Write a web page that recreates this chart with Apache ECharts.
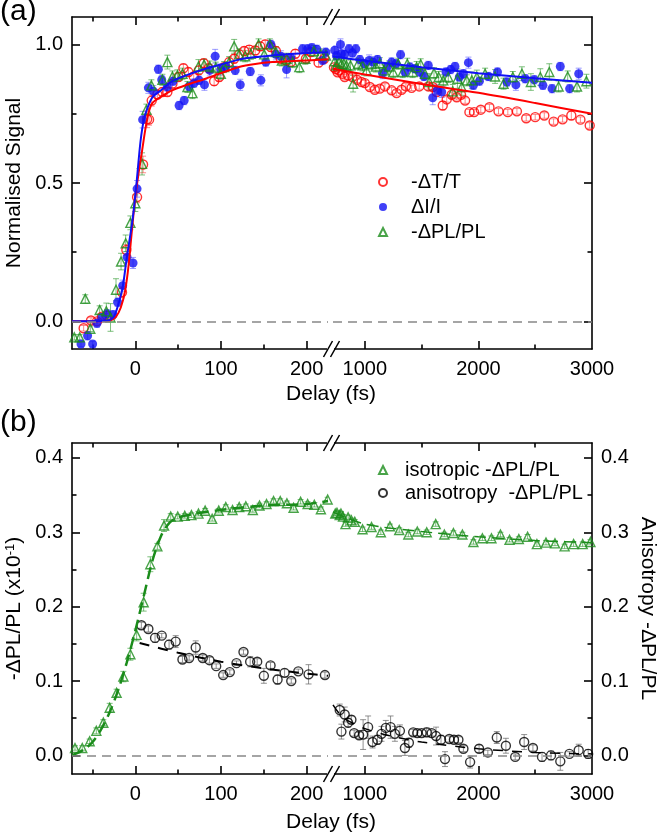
<!DOCTYPE html>
<html><head><meta charset="utf-8">
<script src="https://cdn.jsdelivr.net/npm/echarts@6/dist/echarts.min.js"></script>
<style>html,body{margin:0;padding:0;background:#fff}#c{width:662px;height:836px}</style>
</head><body><div id="c"></div>
<script>
// ---------- Panel (a) data: [delay fs, value, error] ----------
const aRedL = [[-60.4,-0.025,0.01],[-51.8,0.003,0.01],[-44.8,0.0,0.01],[-39,0.017,0.01],[-33,0.02,0.01],[-15.6,0.105,0.02],[-10.5,0.258,0.02],[2,0.449,0.02],[9,0.567,0.03],[13.7,0.73,0.03],[16,0.729,0.02],[19.1,0.798,0.02],[25.7,0.82,0.015],[31.6,0.829,0.015],[37.4,0.829,0.015],[43.3,0.859,0.015],[50.3,0.883,0.015],[56.1,0.915,0.015],[62,0.901,0.015],[68.2,0.885,0.015],[74,0.907,0.015],[79.9,0.933,0.015],[85.7,0.915,0.015],[92,0.868,0.015],[97.8,0.883,0.015],[103.7,0.919,0.015],[109.6,0.937,0.015],[115.4,0.949,0.015],[121.3,0.965,0.015],[127.1,0.977,0.015],[133,0.982,0.015],[140,0.979,0.015],[145.8,0.994,0.015],[151.7,1.001,0.015],[158.3,0.991,0.015],[164.1,0.977,0.015],[170,0.949,0.015],[175.8,0.943,0.015],[181.6,0.937,0.015],[186.8,0.967,0.015],[199.2,0.949,0.015],[205,0.973,0.015],[214,0.935,0.015],[220.6,0.949,0.015]];
const aBlueL = [[-63.5,-0.082,0.01],[-55.8,-0.052,0.015],[-49.9,-0.082,0.01],[-44.8,-0.007,0.015],[-39,0.014,0.015],[-33.1,0.027,0.015],[-26.1,0.024,0.015],[-20.7,0.069,0.015],[-14.8,0.129,0.02],[-9.7,0.232,0.02],[-2.7,0.211,0.02],[2,0.479,0.03],[8.5,0.729,0.03],[15.2,0.844,0.02],[21,0.832,0.02],[26.9,0.911,0.015],[30.8,0.873,0.015],[37.4,0.847,0.015],[44,0.868,0.015],[51.1,0.78,0.015],[57,0.798,0.015],[62.8,0.849,0.015],[68.6,0.861,0.015],[74.5,0.871,0.015],[80.7,0.855,0.02],[86.9,0.907,0.02],[93.2,0.958,0.025],[99.8,0.91,0.02],[105.6,0.921,0.015],[116.6,0.907,0.015],[122.5,0.855,0.02],[134.2,0.903,0.015],[146.6,0.871,0.02],[152.4,0.937,0.015],[158.3,1.001,0.015],[164.1,0.965,0.02],[170,0.958,0.02],[176.6,0.91,0.03],[181.6,0.953,0.015],[195.3,0.985,0.015],[201.2,0.985,0.015],[206.2,0.989,0.015],[212.1,0.983,0.015],[218.7,0.943,0.015],[222.6,0.973,0.015]];
const aGreenL = [[-71.3,-0.058,0.01],[-65,-0.058,0.01],[-58.5,0.081,0.015],[-52.6,-0.027,0.01],[-41.7,0.041,0.015],[-33.9,0.036,0.03],[-29,0.014,0.05],[-22.6,0.114,0.04],[-16.7,0.216,0.03],[-11.3,0.282,0.03],[-5.8,0.356,0.025],[0,0.427,0.03],[7.8,0.569,0.04],[12.9,0.765,0.02],[18.7,0.853,0.02],[31.6,0.873,0.02],[37.4,0.937,0.025],[43.3,0.885,0.02],[49.1,0.889,0.02],[55,0.895,0.02],[60.8,0.847,0.02],[66.7,0.825,0.02],[73.7,0.921,0.025],[80.3,0.928,0.02],[86.9,0.921,0.02],[93.9,0.917,0.02],[99.8,0.895,0.02],[103.7,0.919,0.02],[109.6,0.937,0.02],[115.4,0.994,0.025],[121.3,0.965,0.02],[128.3,0.958,0.02],[134.9,0.967,0.02],[143.9,1.001,0.02],[150.5,0.965,0.02],[157.1,1.001,0.02],[164.1,0.973,0.02],[171.1,0.943,0.02],[176.6,0.949,0.02],[183.6,0.937,0.02],[191.5,0.919,0.02],[198.5,0.949,0.02],[208.5,0.977,0.02],[216.4,0.965,0.02],[222.6,0.961,0.02]];
const aRedFitL = [[-74,0],[-40,0],[-30,0.002],[-23,0.015],[-17,0.05],[-12,0.11],[-8,0.2],[-4,0.33],[0,0.45],[4,0.54],[8,0.62],[12,0.7],[16,0.76],[20,0.79],[30,0.812],[43,0.835],[60,0.855],[82,0.877],[100,0.897],[121,0.919],[140,0.93],[160,0.937],[180,0.94],[200,0.943],[225,0.947]];
const aBlueFitL = [[-74,0],[-40,0.001],[-30,0.005],[-25,0.017],[-20,0.06],[-15,0.12],[-10,0.23],[-5,0.33],[-2,0.4],[2,0.52],[6,0.65],[10,0.73],[14,0.77],[20,0.81],[30,0.835],[43,0.868],[60,0.89],[82,0.913],[100,0.928],[121,0.946],[140,0.955],[160,0.961],[180,0.966],[200,0.97],[225,0.973]];
const aRedR = [[728,0.918,0.01],[745,0.912,0.01],[760,0.9,0.01],[773,0.907,0.01],[803,0.895,0.01],[823,0.883,0.01],[853,0.889,0.01],[891,0.883,0.01],[932,0.873,0.01],[971,0.865,0.01],[1000,0.861,0.01],[1044,0.847,0.01],[1088,0.837,0.01],[1132,0.841,0.012],[1177,0.849,0.01],[1236,0.835,0.01],[1280,0.825,0.01],[1324,0.837,0.01],[1362,0.849,0.01],[1412,0.844,0.01],[1479,0.849,0.01],[1559,0.849,0.01],[1598,0.847,0.01],[1633,0.829,0.01],[1686,0.78,0.015],[1721,0.802,0.01],[1765,0.819,0.01],[1809,0.81,0.01],[1847,0.819,0.01],[1883,0.798,0.01],[1921,0.756,0.01],[1962,0.756,0.01],[2021,0.765,0.01],[2097,0.774,0.01],[2177,0.759,0.01],[2259,0.756,0.01],[2339,0.759,0.01],[2421,0.734,0.01],[2500,0.738,0.01],[2580,0.744,0.01],[2662,0.722,0.01],[2741,0.73,0.01],[2818,0.744,0.015],[2898,0.729,0.01],[2980,0.708,0.01]];
const aBlueR = [[735,0.98,0.015],[750,0.96,0.015],[786,1.001,0.02],[794,0.967,0.02],[823,0.965,0.015],[861,0.985,0.015],[891,0.97,0.015],[921,0.985,0.015],[956,0.946,0.015],[994,0.931,0.015],[1038,0.943,0.02],[1073,0.937,0.02],[1112,0.946,0.015],[1156,0.897,0.02],[1197,0.919,0.015],[1236,0.937,0.015],[1274,0.931,0.015],[1315,0.964,0.015],[1353,0.901,0.015],[1397,0.919,0.015],[1441,0.913,0.015],[1485,0.901,0.015],[1521,0.885,0.015],[1559,0.925,0.015],[1598,0.808,0.025],[1638,0.835,0.02],[1677,0.829,0.02],[1715,0.901,0.015],[1756,0.91,0.015],[1794,0.921,0.015],[1832,0.883,0.015],[1868,0.895,0.015],[1912,0.935,0.02],[1956,0.853,0.015],[2009,0.868,0.015],[2088,0.885,0.015],[2168,0.901,0.015],[2251,0.865,0.015],[2330,0.855,0.02],[2412,0.877,0.015],[2492,0.873,0.015],[2568,0.853,0.015],[2648,0.841,0.015],[2721,0.921,0.015],[2803,0.841,0.015],[2883,0.895,0.02]];
const aGreenR = [[735,0.94,0.02],[750,0.925,0.02],[773,0.937,0.02],[795,0.93,0.02],[815,0.931,0.02],[838,0.925,0.02],[874,0.925,0.02],[897,0.859,0.03],[941,0.931,0.02],[980,0.925,0.02],[1015,0.907,0.02],[1059,0.931,0.02],[1097,0.921,0.02],[1132,0.933,0.02],[1170,0.907,0.02],[1214,0.921,0.02],[1250,0.901,0.02],[1294,0.931,0.02],[1333,0.901,0.02],[1374,0.931,0.02],[1421,0.901,0.02],[1456,0.919,0.02],[1492,0.929,0.02],[1530,0.895,0.02],[1568,0.865,0.03],[1609,0.897,0.02],[1650,0.883,0.02],[1691,0.871,0.02],[1735,0.883,0.02],[1774,0.831,0.025],[1815,0.877,0.035],[1853,0.847,0.03],[1898,0.871,0.02],[1942,0.871,0.03],[1986,0.883,0.025],[2059,0.895,0.02],[2147,0.885,0.025],[2221,0.859,0.02],[2303,0.883,0.02],[2383,0.895,0.025],[2462,0.865,0.03],[2545,0.883,0.03],[2624,0.901,0.03],[2706,0.849,0.02],[2786,0.885,0.02],[2868,0.849,0.02],[2951,0.868,0.025]];
const aRedFitR = [[720,0.913],[1000,0.892],[1500,0.858],[2000,0.826],[2500,0.789],[3000,0.75]];
const aBlueFitR = [[720,0.957],[1000,0.942],[1500,0.918],[2000,0.897],[2500,0.879],[3000,0.862]];

// ---------- Panel (b) data ----------
const bGreenL = [[-70.5,0.010,0.003],[-62,0.010,0.003],[-53.4,0.019,0.003],[-45.6,0.033,0.004],[-37.4,0.044,0.004],[-30,0.064,0.006],[-21.9,0.084,0.005],[-14,0.106,0.007],[-5.8,0.136,0.008],[1.5,0.162,0.008],[9.7,0.206,0.012],[17.5,0.257,0.01],[25.7,0.281,0.004],[33.5,0.309,0.008],[41.3,0.321,0.004],[49.5,0.321,0.003],[57.7,0.322,0.003],[65.5,0.323,0.003],[73.7,0.325,0.003],[81.5,0.329,0.003],[89.7,0.318,0.003],[97.4,0.329,0.003],[105.6,0.334,0.003],[113.5,0.33,0.003],[121.3,0.334,0.003],[129,0.335,0.003],[137.2,0.33,0.003],[145,0.336,0.003],[153.2,0.338,0.003],[161.4,0.342,0.003],[169.2,0.342,0.003],[177,0.339,0.003],[184.8,0.333,0.003],[193,0.341,0.003],[201.2,0.338,0.003],[209,0.337,0.003],[216.7,0.331,0.003],[224.6,0.344,0.003]];
const bBlackL = [[7,0.175,0.004],[15.2,0.17,0.004],[23,0.158,0.006],[30.8,0.161,0.003],[39.4,0.149,0.006],[47.1,0.153,0.008],[55,0.129,0.004],[62.8,0.131,0.003],[70.5,0.145,0.009],[78.7,0.131,0.004],[86.5,0.128,0.004],[94.4,0.12,0.003],[102.6,0.108,0.003],[110.3,0.112,0.003],[118.1,0.124,0.003],[126.3,0.139,0.003],[134.1,0.126,0.007],[142.3,0.126,0.004],[150.1,0.107,0.01],[157.9,0.121,0.004],[166.1,0.102,0.006],[174.3,0.111,0.005],[182.1,0.1,0.003],[190.3,0.113,0.003],[202.3,0.109,0.013],[221.4,0.108,0.004]];
const bGreenFitL = [[-74,0.0],[-60,0.008],[-50,0.018],[-40,0.035],[-30,0.058],[-20,0.088],[-10,0.125],[0,0.168],[10,0.215],[20,0.262],[30,0.295],[40,0.313],[50,0.32],[70,0.325],[100,0.33],[150,0.336],[200,0.338],[225,0.342]];
const bBlackFitL = [[5,0.151],[50,0.138],[100,0.126],[150,0.117],[200,0.11],[225,0.107]];
const bGreenR = [[740,0.325,0.003],[755,0.326,0.003],[779,0.323,0.003],[790,0.325,0.003],[808,0.321,0.003],[830,0.311,0.003],[853,0.32,0.003],[882,0.316,0.003],[912,0.314,0.003],[980,0.304,0.003],[1059,0.307,0.003],[1141,0.3,0.003],[1221,0.308,0.003],[1303,0.303,0.003],[1383,0.297,0.003],[1462,0.301,0.003],[1545,0.3,0.003],[1624,0.311,0.003],[1700,0.297,0.003],[1780,0.299,0.003],[1859,0.297,0.003],[1956,0.287,0.003],[2035,0.292,0.003],[2115,0.292,0.003],[2194,0.297,0.003],[2274,0.29,0.003],[2356,0.291,0.003],[2433,0.294,0.003],[2515,0.284,0.003],[2595,0.286,0.003],[2674,0.285,0.003],[2759,0.281,0.003],[2838,0.284,0.003],[2918,0.284,0.003],[2986,0.287,0.003]];
const bBlackR = [[779,0.061,0.008],[794,0.032,0.01],[823,0.055,0.01],[853,0.044,0.006],[882,0.048,0.005],[906,0.030,0.004],[950,0.027,0.004],[985,0.028,0.02],[1029,0.038,0.015],[1068,0.018,0.008],[1112,0.021,0.006],[1147,0.029,0.01],[1185,0.037,0.01],[1227,0.038,0.015],[1265,0.029,0.01],[1309,0.033,0.008],[1353,0.010,0.01],[1388,0.017,0.006],[1426,0.031,0.004],[1462,0.030,0.004],[1500,0.030,0.004],[1545,0.031,0.006],[1589,0.030,0.004],[1627,0.026,0.012],[1671,0.021,0.006],[1706,-0.005,0.01],[1744,0.022,0.004],[1785,0.021,0.004],[1824,0.021,0.004],[1868,0.009,0.004],[1927,-0.009,0.008],[2006,0.009,0.005],[2083,0.004,0.003],[2162,0.024,0.008],[2242,0.013,0.01],[2324,-0.002,0.004],[2403,0.018,0.01],[2480,0.010,0.004],[2560,-0.002,0.006],[2639,0.0,0.006],[2721,-0.008,0.012],[2801,0.002,0.003],[2883,0.007,0.008],[2966,0.002,0.006]];
const bGreenFitR = [[720,0.327],[1000,0.311],[1500,0.301],[2000,0.294],[2500,0.289],[3000,0.286]];
const bBlackFitR = [[720,0.068],[800,0.052],[900,0.043],[1000,0.036],[1200,0.027],[1500,0.018],[2000,0.009],[2500,0.004],[3000,0.002]];

// ---------- Axis tick definitions ----------
const xLeftRange = [-74, 225];
const xRightRange = [720, 3000];
const xLeftMajor = [0, 100, 200], xLeftMinor = [-50, 50, 150];
const xRightMajor = [1000, 2000], xRightMinor = [1500, 2500], xRightLabels = [1000, 2000, 3000];
const yARange = [-0.1, 1.1], yAMajor = [0, 0.5, 1.0], yAMinor = [0.25, 0.75];
const yBRange = [-0.025, 0.42], yBMajor = [0, 0.1, 0.2, 0.3, 0.4], yBMinor = [0.05, 0.15, 0.25, 0.35];

const FONT = '"Liberation Sans", Arial, Helvetica, sans-serif';
const LS = {color: '#000', width: 1.6};
const RED = '#ff0000', BLUE = '#1010f5', GREEN = '#1a8c1a', BLACK = '#000';

function xAxes(grid, range, major, minor, labels) {
  const c = {gridIndex: grid, type: 'value', min: range[0], max: range[1], splitLine: {show: false}};
  const tick = (len, vals) => ({show: true, inside: true, length: len, customValues: vals, lineStyle: LS});
  return [
    Object.assign({}, c, {position: 'bottom', axisLine: {show: true, onZero: false, lineStyle: LS}, axisTick: tick(8, major),
      axisLabel: {show: true, customValues: labels, margin: 10, fontSize: 20, color: '#000', fontFamily: FONT, formatter: v => String(v)}}),
    Object.assign({}, c, {position: 'bottom', axisLine: {show: false, onZero: false}, axisTick: tick(4.5, minor), axisLabel: {show: false}}),
    Object.assign({}, c, {position: 'top', axisLine: {show: true, onZero: false, lineStyle: LS}, axisTick: tick(8, major), axisLabel: {show: false}}),
    Object.assign({}, c, {position: 'top', axisLine: {show: false, onZero: false}, axisTick: tick(4.5, minor), axisLabel: {show: false}})
  ];
}
function yAxes(grid, pos, range, major, minor, showLabels, nameOpt) {
  const c = {gridIndex: grid, type: 'value', min: range[0], max: range[1], position: pos, splitLine: {show: false}};
  const tick = (len, vals) => ({show: true, inside: true, length: len, customValues: vals, lineStyle: LS});
  const main = Object.assign({}, c, {axisLine: {show: true, onZero: false, lineStyle: LS}, axisTick: tick(8, major),
    axisLabel: {show: showLabels, customValues: major, margin: 9, fontSize: 20, color: '#000', fontFamily: FONT,
      formatter: v => v.toFixed(1)}}, nameOpt || {});
  const mnr = Object.assign({}, c, {axisLine: {show: false, onZero: false}, axisTick: tick(4.5, minor), axisLabel: {show: false}});
  return [main, mnr];
}

const xAxis = [].concat(
  xAxes(0, xLeftRange, xLeftMajor, xLeftMinor, xLeftMajor),
  xAxes(1, xRightRange, xRightMajor, xRightMinor, xRightLabels),
  xAxes(2, xLeftRange, xLeftMajor, xLeftMinor, xLeftMajor),
  xAxes(3, xRightRange, xRightMajor, xRightMinor, xRightLabels)
);
const nameStyle = {fontSize: 21, color: '#000', fontFamily: FONT};
const yAxis = [].concat(
  yAxes(0, 'left', yARange, yAMajor, yAMinor, true, {name: 'Normalised Signal', nameLocation: 'middle', nameGap: 47, nameTextStyle: nameStyle}),
  yAxes(1, 'right', yARange, yAMajor, yAMinor, false),
  yAxes(2, 'left', yBRange, yBMajor, yBMinor, true, {name: '{n|-ΔPL/PL (x10}{s|-1}{n|)}', nameLocation: 'middle', nameGap: 47,
    nameTextStyle: Object.assign({}, nameStyle, {rich: {n: {fontSize: 21, fontFamily: FONT, color: '#000', verticalAlign: 'bottom'}, s: {fontSize: 13, fontFamily: FONT, color: '#000', verticalAlign: 'top'}}})}),
  yAxes(3, 'right', yBRange, yBMajor, yBMinor, true, {name: 'Anisotropy -ΔPL/PL', nameLocation: 'middle', nameGap: 45, nameRotate: -90, nameTextStyle: nameStyle})
);

function errRender(color) {
  return function (params, api) {
    const x = api.value(0), y = api.value(1), e = api.value(2);
    const p1 = api.coord([x, y + e]), p2 = api.coord([x, y - e]);
    const cw = 3, st = {stroke: color, lineWidth: 1};
    return {type: 'group', children: [
      {type: 'line', shape: {x1: p1[0], y1: p1[1], x2: p2[0], y2: p2[1]}, style: st},
      {type: 'line', shape: {x1: p1[0] - cw, y1: p1[1], x2: p1[0] + cw, y2: p1[1]}, style: st},
      {type: 'line', shape: {x1: p2[0] - cw, y1: p2[1], x2: p2[0] + cw, y2: p2[1]}, style: st}
    ]};
  };
}
const series = [];
function addPoints(grid, name, data, symbol, color, filled, errColor) {
  const xi = grid * 4, yi = grid * 2;
  series.push({type: 'custom', xAxisIndex: xi, yAxisIndex: yi, data: data, renderItem: errRender(errColor), clip: true, silent: true, z: 1,
    encode: {x: 0, y: 1}});
  series.push({type: 'scatter', name: name, xAxisIndex: xi, yAxisIndex: yi, data: data.map(d => [d[0], d[1]]), symbol: symbol,
    symbolSize: 9, clip: true, z: 2,
    itemStyle: filled ? {color: color} : {color: 'rgba(255,255,255,0)', borderColor: color, borderWidth: 1.4}});
}
function addFit(grid, data, color, type, width) {
  series.push({type: 'line', xAxisIndex: grid * 4, yAxisIndex: grid * 2, data: data, showSymbol: false, symbol: 'none', smooth: 0.3,
    lineStyle: {color: color, width: width, type: type}, silent: true, z: 3, clip: true});
}
function addZero(grid) {
  series.push({type: 'line', xAxisIndex: grid * 4, yAxisIndex: grid * 2, data: [], silent: true, z: 0,
    markLine: {silent: true, symbol: 'none', label: {show: false}, lineStyle: {color: '#888', type: [9, 6], width: 1.5}, data: [{yAxis: 0}]}});
}
[0, 1, 2, 3].forEach(addZero);

addPoints(0, '-ΔT/T', aRedL, 'circle', RED, false, 'rgba(255,60,60,0.6)');
addPoints(0, 'ΔI/I', aBlueL, 'circle', BLUE, true, 'rgba(90,90,255,0.6)');
addPoints(0, '-ΔPL/PL', aGreenL, 'triangle', GREEN, false, 'rgba(40,150,40,0.6)');
addFit(0, aRedFitL, RED, 'solid', 2);
addFit(0, aBlueFitL, BLUE, 'solid', 2);
addPoints(1, '-ΔT/T', aRedR, 'circle', RED, false, 'rgba(255,60,60,0.6)');
addPoints(1, 'ΔI/I', aBlueR, 'circle', BLUE, true, 'rgba(90,90,255,0.6)');
addPoints(1, '-ΔPL/PL', aGreenR, 'triangle', GREEN, false, 'rgba(40,150,40,0.6)');
addFit(1, aRedFitR, RED, 'solid', 2);
addFit(1, aBlueFitR, BLUE, 'solid', 2);

addPoints(2, 'isotropic -ΔPL/PL', bGreenL, 'triangle', GREEN, false, 'rgba(40,150,40,0.6)');
addPoints(2, 'anisotropy  -ΔPL/PL', bBlackL, 'circle', BLACK, false, 'rgba(100,100,100,0.7)');
addFit(2, bGreenFitL, GREEN, [12, 6], 2.5);
addFit(2, bBlackFitL, BLACK, [10, 9], 2);
addPoints(3, 'isotropic -ΔPL/PL', bGreenR, 'triangle', GREEN, false, 'rgba(40,150,40,0.6)');
addPoints(3, 'anisotropy  -ΔPL/PL', bBlackR, 'circle', BLACK, false, 'rgba(100,100,100,0.7)');
addFit(3, bGreenFitR, GREEN, [12, 6], 1.5);
addFit(3, bBlackFitR, BLACK, [10, 9], 1.5);

// axis break marks "//"
const breaks = [];
[17, 349, 443, 774].forEach(y => {
  breaks.push({type: 'rect', shape: {x: 327, y: y - 3, width: 7, height: 6}, style: {fill: '#fff'}, z: 50});
  [[323.5, 332.5], [330.5, 339.5]].forEach(s => breaks.push({type: 'line', shape: {x1: s[0], y1: y + 8, x2: s[1], y2: y - 8},
    style: {stroke: '#000', lineWidth: 1.5}, z: 51}));
});

function legendOpt(names, top, gap, spacer) {
  return {data: names, orient: 'vertical', left: 378, top: top, itemWidth: 8, itemHeight: 8, itemGap: gap,
    selectedMode: false, padding: 0,
    formatter: n => '{sp| }{t|' + n + '}',
    textStyle: {fontSize: 20, color: '#000', fontFamily: FONT,
      rich: {sp: {width: spacer, fontSize: 20}, t: {fontSize: 20, color: '#000', fontFamily: FONT}}}};
}

const option = {
  animation: false,
  backgroundColor: '#fff',
  textStyle: {fontFamily: FONT},
  grid: [
    {left: 72, top: 17, width: 256, height: 332},
    {left: 333, top: 17, width: 259, height: 332},
    {left: 72, top: 443, width: 256, height: 331},
    {left: 333, top: 443, width: 259, height: 331}
  ],
  title: [
    {text: '(a)', left: 0, top: -3, padding: 0, textStyle: {fontSize: 30, fontWeight: 'normal', color: '#000', fontFamily: FONT}},
    {text: '(b)', left: 0, top: 408, padding: 0, textStyle: {fontSize: 30, fontWeight: 'normal', color: '#000', fontFamily: FONT}},
    {text: 'Delay (fs)', left: 331, textAlign: 'center', top: 384, padding: 0, textStyle: {fontSize: 21, fontWeight: 'normal', color: '#000', fontFamily: FONT}},
    {text: 'Delay (fs)', left: 331, textAlign: 'center', top: 812, padding: 0, textStyle: {fontSize: 21, fontWeight: 'normal', color: '#000', fontFamily: FONT}}
  ],
  legend: [
    legendOpt(['-ΔT/T', 'ΔI/I', '-ΔPL/PL'], 172, 5, 19),
    legendOpt(['isotropic -ΔPL/PL', 'anisotropy  -ΔPL/PL'], 460, 3, 13)
  ],
  xAxis: xAxis,
  yAxis: yAxis,
  series: series,
  graphic: breaks
};
const chart = echarts.init(document.getElementById('c'));
chart.setOption(option);
</script>
</body></html>
